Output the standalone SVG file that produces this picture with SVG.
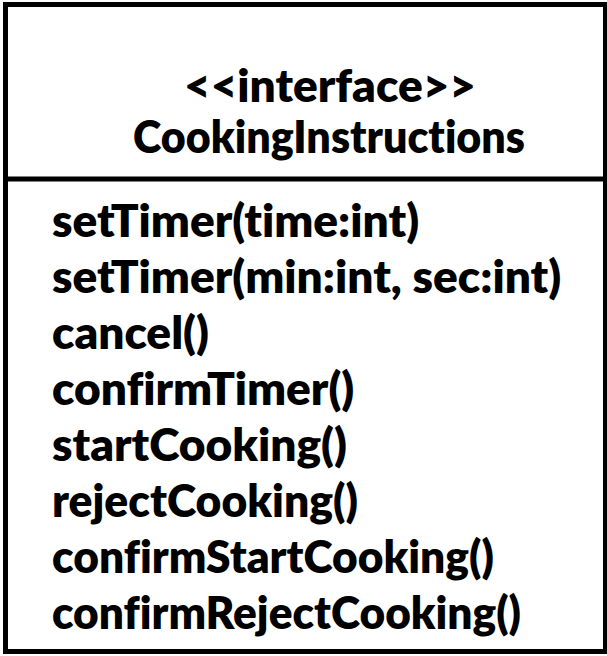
<svg xmlns="http://www.w3.org/2000/svg" width="607" height="656" viewBox="0 0 607 656">
  <style>
    .frame { fill: #ffffff; stroke: #000000; stroke-width: 5; }
    .rule { stroke: #000000; stroke-width: 5; }
    .txt { font-family: Lato, "Liberation Sans", sans-serif; font-weight: 800; font-size: 46px; fill: #000000; font-variant-ligatures: none; }
    .head { text-anchor: middle; }
  </style>
  <rect x="0" y="0" width="607" height="656" fill="#ffffff"/>
  <g id="CookingInstructions">
    <rect class="frame" x="5.5" y="4.5" width="600" height="647"/>
    <line class="rule" x1="5.5" y1="179" x2="605.5" y2="179"/>
    <g id="header">
      <text class="txt head" x="330" y="102">&lt;&lt;interface&gt;&gt;</text>
      <text class="txt head" x="329" y="153" textLength="392" lengthAdjust="spacingAndGlyphs">CookingInstructions</text>
    </g>
    <g id="operations">
      <text class="txt" x="52" y="237">setTimer(time:int)</text>
      <text class="txt" x="52" y="293">setTimer(min:int, sec:int)</text>
      <text class="txt" x="52" y="349">cancel()</text>
      <text class="txt" x="52" y="405">confirmTimer()</text>
      <text class="txt" x="52" y="461">startCooking()</text>
      <text class="txt" x="52" y="517" textLength="306" lengthAdjust="spacingAndGlyphs">rejectCooking()</text>
      <text class="txt" x="52" y="573" textLength="442" lengthAdjust="spacingAndGlyphs">confirmStartCooking()</text>
      <text class="txt" x="52" y="629" textLength="469" lengthAdjust="spacingAndGlyphs">confirmRejectCooking()</text>
    </g>
  </g>
  <g id="connectors"/>
</svg>
